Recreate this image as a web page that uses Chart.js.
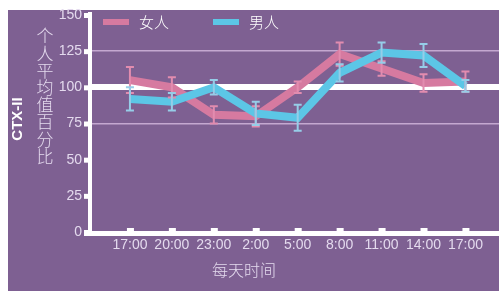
<!DOCTYPE html>
<html>
<head>
<meta charset="utf-8">
<script src="https://cdn.jsdelivr.net/npm/chart.js@4"></script>
<style>
  html, body { margin: 0; padding: 0; background: #fff; }
  #wrap { width: 499px; height: 291px; }
</style>
</head>
<body>
<div id="wrap"><canvas id="chart" width="499" height="291"></canvas></div>
<script>
"use strict";

// categories and values
var hours = ["17:00", "20:00", "23:00", "2:00", "5:00", "8:00", "11:00", "14:00", "17:00"];
var women = [105, 100, 81, 80, 100, 123, 113, 103, 104];
var womenErr = [9, 7, 6, 7, 4, 8, 5, 6, 7];
var men = [92, 90, 100, 82, 79, 110, 124, 122, 101];
var menErr = [8, 6, 5, 8, 9, 6, 7, 8, 4];
var yTicks = [0, 25, 50, 75, 100, 125, 150];

var pink = "rgb(214, 122, 160)";
var blue = "rgb(92, 198, 230)";
var labelColor = "rgb(228, 218, 238)";
var cjk = "'Noto Sans CJK SC', sans-serif";

function toPoints(arr) {
  return arr.map(function (v, i) { return { x: i, y: v }; });
}

// purple panel behind everything
var panel = {
  id: "panel",
  beforeDraw: function (chart) {
    var c = chart.ctx;
    c.save();
    c.fillStyle = "rgb(126, 96, 146)";
    c.fillRect(8, 10, 491, 281);
    c.restore();
  }
};

// error bars, axes with inner ticks, legend and titles
var extras = {
  id: "extras",
  afterDatasetsDraw: function (chart) {
    var c = chart.ctx;
    var xs = chart.scales.x, ys = chart.scales.y;
    var sets = [[women, womenErr, "rgb(226, 140, 175)"], [men, menErr, "rgb(150, 205, 232)"]];
    c.save();
    c.lineWidth = 2;
    sets.forEach(function (s) {
      c.strokeStyle = s[2];
      s[0].forEach(function (v, i) {
        var x = xs.getPixelForValue(i);
        var t = ys.getPixelForValue(v + s[1][i]);
        var b = ys.getPixelForValue(v - s[1][i]);
        c.beginPath();
        c.moveTo(x, t); c.lineTo(x, b);
        c.moveTo(x - 4, t); c.lineTo(x + 4, t);
        c.moveTo(x - 4, b); c.lineTo(x + 4, b);
        c.stroke();
      });
    });
    c.restore();
  },
  afterDraw: function (chart) {
    var c = chart.ctx;
    var xs = chart.scales.x, ys = chart.scales.y;
    var area = chart.chartArea;
    c.save();
    c.fillStyle = "#fff";
    // axis lines
    c.fillRect(area.left, ys.getPixelForValue(150) - 3, 4, area.bottom - ys.getPixelForValue(150) + 5);
    c.fillRect(area.left - 4, area.bottom - 1, area.right - area.left + 4, 5);
    // y ticks (stubs on the left)
    yTicks.forEach(function (v) {
      var y = ys.getPixelForValue(v);
      c.fillRect(area.left - 4, y - 2, 5, 5);
    });
    // x ticks (little squares above axis)
    hours.forEach(function (h, i) {
      var x = xs.getPixelForValue(i);
      c.fillRect(x - 3, area.bottom - 4, 7, 4);
    });

    // legend
    var items = [[chart.data.datasets[0], 103], [chart.data.datasets[1], 213]];
    c.font = "300 15px " + cjk;
    c.textBaseline = "middle";
    c.textAlign = "left";
    items.forEach(function (it) {
      c.fillStyle = it[0].borderColor;
      c.fillRect(it[1], 19, 26, 6);
      c.fillStyle = "#fff";
      c.fillText(it[0].label, it[1] + 36, 22);
    });

    // y title stacked characters
    var ytitle = "个人平均值百分比";
    c.font = "300 17px " + cjk;
    c.textAlign = "center";
    c.fillStyle = labelColor;
    for (var k = 0; k < ytitle.length; k++) {
      c.fillText(ytitle[k], 45, 36 + k * 17.2);
    }
    // CTX-II rotated
    c.save();
    c.translate(18, 119);
    c.rotate(-Math.PI / 2);
    c.font = "bold 15px 'Liberation Sans', Arial, sans-serif";
    c.fillStyle = "#fff";
    c.fillText("CTX-II", 0, 0);
    c.restore();
    // x title
    c.font = "300 16px " + cjk;
    c.fillStyle = labelColor;
    c.fillText("每天时间", 244, 270);
    c.restore();
  }
};

var ctx = document.getElementById("chart");

var myChart = new Chart(ctx, {
  type: "line",
  data: {
    datasets: [
      {
        label: "女人",
        data: toPoints(women),
        borderColor: pink,
        borderWidth: 8,
        pointRadius: 0,
        tension: 0,
        order: 1
      },
      {
        label: "男人",
        data: toPoints(men),
        borderColor: blue,
        borderWidth: 8,
        pointRadius: 0,
        tension: 0,
        order: 0
      }
    ]
  },
  options: {
    responsive: false,
    animation: false,
    layout: { padding: { top: 15, right: 0, left: 0, bottom: 0 } },
    plugins: {
      legend: { display: false },
      tooltip: { enabled: false }
    },
    scales: {
      x: {
        type: "linear",
        min: -1,
        max: 8.8,
        afterBuildTicks: function (scale) {
          scale.ticks = hours.map(function (h, i) { return { value: i }; });
        },
        afterFit: function (scale) { scale.height = 59; },
        ticks: {
          autoSkip: false,
          maxRotation: 0,
          padding: 5,
          color: labelColor,
          font: { size: 14, family: "'Liberation Sans', Arial, sans-serif" },
          callback: function (v) { return hours[v]; }
        },
        grid: { display: false, drawTicks: false },
        border: { display: false }
      },
      y: {
        min: 0,
        max: 150,
        afterBuildTicks: function (scale) {
          scale.ticks = yTicks.map(function (v) { return { value: v }; });
        },
        afterFit: function (scale) { scale.width = 88; },
        ticks: {
          padding: 6,
          color: labelColor,
          font: { size: 14, family: "'Liberation Sans', Arial, sans-serif" }
        },
        grid: {
          drawTicks: false,
          color: function (c) {
            if (c.tick.value === 100) return "#fff";
            if (c.tick.value === 125 || c.tick.value === 75) return "rgb(196, 168, 208)";
            return "rgba(0,0,0,0)";
          },
          lineWidth: function (c) {
            return c.tick.value === 100 ? 6 : 1.5;
          }
        },
        border: { display: false }
      }
    }
  },
  plugins: [panel, extras]
});
</script>
</body>
</html>
